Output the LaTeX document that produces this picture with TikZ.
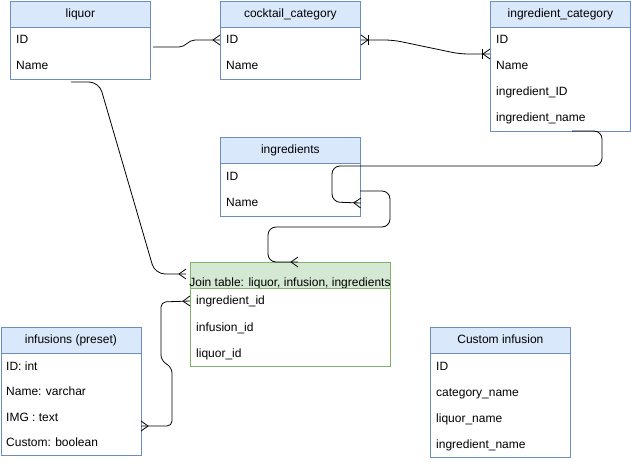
\documentclass[tikz,border=0pt]{standalone}
\usepackage{fontspec}
\setmainfont{Liberation Sans}
\usetikzlibrary{arrows.meta}

\definecolor{hdblue}{HTML}{DAE8FC}
\definecolor{lnblue}{HTML}{6C8EBF}
\definecolor{hdgreen}{HTML}{D5E8D4}
\definecolor{lngreen}{HTML}{82B366}

\pgfdeclarearrow{
  name=crowfoot,
  parameters={\the\pgfarrowlength,\the\pgfarrowwidth},
  setup code={
    \pgfarrowssettipend{0pt}
    \pgfarrowssetlineend{0pt}
    \pgfarrowssetbackend{-\pgfarrowlength}
    \pgfarrowssetvisualbackend{-\pgfarrowlength}
    \pgfarrowssavethe\pgfarrowlength
    \pgfarrowssavethe\pgfarrowwidth
  },
  drawing code={
    \pgfsetdash{}{0pt}
    \pgfpathmoveto{\pgfqpoint{0pt}{.5\pgfarrowwidth}}
    \pgfpathlineto{\pgfqpoint{-\pgfarrowlength}{0pt}}
    \pgfpathlineto{\pgfqpoint{0pt}{-.5\pgfarrowwidth}}
    \pgfusepathqstroke
  }
}

\begin{document}
\begin{tikzpicture}[x=1pt,y=-1pt,
                font=\fontsize{12}{14}\selectfont,
                head/.style={draw=lnblue,fill=hdblue,line width=0.8pt,anchor=north west,minimum width=140pt,minimum height=26pt,inner sep=0pt,text height=9pt,text depth=3pt},
                body/.style={draw=lnblue,fill=white,line width=0.8pt,anchor=north west,minimum width=140pt,inner sep=0pt},
                field/.style={anchor=west,inner sep=0pt,text height=9pt,text depth=3pt},
                rel/.style={line width=0.8pt,rounded corners=8pt},
                crow/.tip={crowfoot[length=7pt,width=10pt]},
                onecrow/.tip={Bar[width=10pt] crowfoot[length=7pt,width=10pt]}
                ]
            \useasboundingbox (0,0) rectangle (631,461);

            \node[head] (liquorH) at (10,1) {liquor};
            \node[body,minimum height=52pt] (liquorB) at (10,27) {};
            \node[field] (lqID) at (16,40) {ID};
            \node[field] (lqName) at (16,66) {Name};

            \node[head] (cocktailH) at (220,1) {cocktail\_category};
            \node[body,minimum height=52pt] (cocktailB) at (220,27) {};
            \node[field] (ccID) at (226,40) {ID};
            \node[field] (ccName) at (226,66) {Name};

            \node[head] (ingcatH) at (490,1) {ingredient\_category};
            \node[body,minimum height=104pt] (ingcatB) at (490,27) {};
            \node[field] (icID) at (496,40) {ID};
            \node[field] (icName) at (496,66) {Name};
            \node[field] (icIngID) at (496,92) {ingredient\_ID};
            \node[field] (icIngName) at (496,118) {ingredient\_name};

            \node[head] (ingredH) at (220,137) {ingredients};
            \node[body,minimum height=53pt] (ingredB) at (220,163) {};
            \node[field] (igID) at (226,177) {ID};
            \node[field] (igName) at (226,203) {Name};

            \node[head,draw=lngreen,fill=hdgreen,minimum width=200pt] (joinH) at (190,262) {};
            \node (joinT) at (290,283) {Join table: liquor, infusion, ingredients};
            \node[body,draw=lngreen,minimum width=200pt,minimum height=78pt] (joinB) at (190,288) {};
            \node[field] (jtIngID) at (196,301) {ingredient\_id};
            \node[field] (jtInfID) at (196,328) {infusion\_id};
            \node[field] (jtLiqID) at (196,354) {liquor\_id};

            \node[head] (infusH) at (0.5,327) {infusions (preset)};
            \node[body,minimum height=102pt] (infusB) at (0.5,353) {};
            \node[field] (inID) at (6,367) {ID: int};
            \node[field] (inName) at (6,392) {Name: varchar};
            \node[field] (inImg) at (6,418) {IMG : text};
            \node[field] (inCustom) at (6,443) {Custom: boolean};

            \node[head] (customH) at (430,327) {Custom infusion};
            \node[body,minimum height=104pt] (customB) at (430,353) {};
            \node[field] (cuID) at (436,367) {ID};
            \node[field] (cuCat) at (436,393) {category\_name};
            \node[field] (cuLiq) at (436,419) {liquor\_name};
            \node[field] (cuIng) at (436,445) {ingredient\_name};

            \coordinate (lqOut) at (153,47);
            \coordinate (ccIn) at (cocktailB.west |- ccID);
            \coordinate (ccOut) at (361,40);
            \coordinate (icIn) at (490,54);
            \coordinate (icOut) at (572,131);
            \coordinate (igIn) at (ingredB.east |- igName);
            \coordinate (igOut) at (360,191);
            \coordinate (jtTop) at (298,262);
            \coordinate (lqDown) at (71,82);
            \coordinate (jtLeft) at (186,274);
            \coordinate (inOut) at (141,426);
            \coordinate (jtIn) at (joinB.west |- jtIngID);

            \draw[rel,sharp corners,-crow] (lqOut) -- (179,47) to[out=0,in=180] (195,40) -- (ccIn);
            \draw[rel,onecrow-onecrow] (ccOut) -- (393,40) -- (460,54) -- (icIn);
            \draw[rel,-crow] (icOut) -- (602,131) -- (602,166) -- (332,166) -- (332,202) -- (igIn);
            \draw[rel,-crow] (igOut) -- (390,191) -- (390,227) -- (268,227) -- (268,262) -- (jtTop);
            \draw[rel,rounded corners=10pt,-crow] (lqDown) -- (99,82) -- (155,274) -- (jtLeft);
            \draw[rel,rounded corners=5pt,crow-crow] (inOut) -- (172,426) -- (172,368) -- (161,360) -- (161,302) -- (jtIn);

            \end{tikzpicture}
\end{document}
